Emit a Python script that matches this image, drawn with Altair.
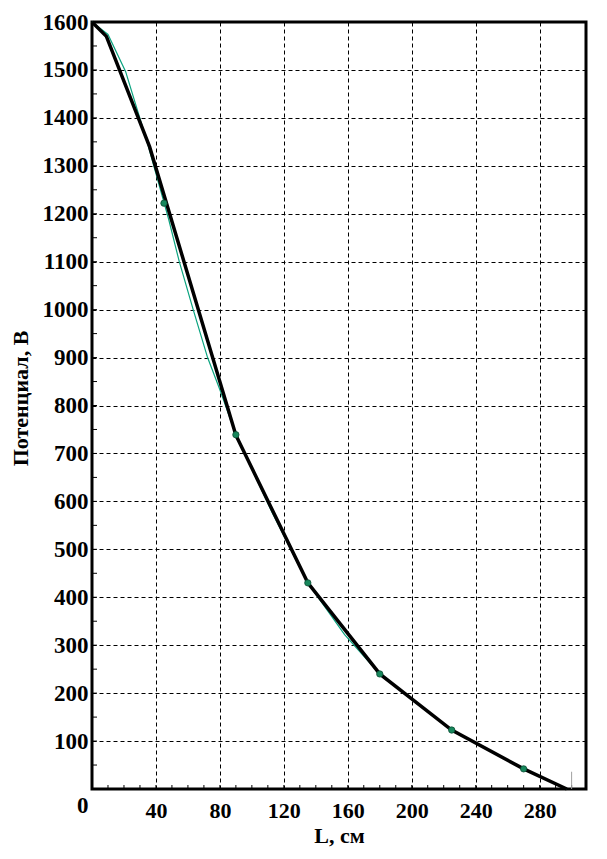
import altair as alt
import pandas as pd

# Thick black curve (L, cm ; potential, V)
black_L = [0, 9, 36, 90, 135, 180, 225, 270, 297]
black_V = [1600, 1570, 1340, 738, 430, 240, 123, 42, 0]

# Thin green curve
green_L = [0, 10, 21, 35, 48, 54.6, 63.3, 72.3, 80, 90, 112.5, 135, 158, 180, 225, 270, 297]
green_V = [1600, 1574, 1497, 1344, 1188, 1100, 1000, 900, 833, 739, 578, 430, 322, 240, 123, 42, 0]

# Measured points
dots_L = [45, 90, 135, 180, 225, 270]
dots_V = [1222, 739, 430, 240, 123, 42]

# Small grey marker at the right end
marker_L = [300]
marker_V = [36]

# Axis ticks
x_ticks = [40, 80, 120, 160, 200, 240, 280]
y_ticks = [0, 100, 200, 300, 400, 500, 600, 700, 800, 900, 1000,
           1100, 1200, 1300, 1400, 1500, 1600]
x_minor = list(range(10, 310, 10))
y_minor = list(range(50, 1600, 50))

W, H = 494, 767
FONT = "Liberation Serif"

black_df = pd.DataFrame({"L": black_L, "V": black_V})
green_df = pd.DataFrame({"L": green_L, "V": green_V})
dots_df = pd.DataFrame({"L": dots_L, "V": dots_V})
marker_df = pd.DataFrame({"L": marker_L, "V": marker_V, "V0": [0] * len(marker_L)})
xminor_df = pd.DataFrame({"L": x_minor})
yminor_df = pd.DataFrame({"V": y_minor})

xscale = alt.Scale(domain=[0, 309], nice=False, zero=False)
yscale = alt.Scale(domain=[0, 1600], nice=False)

xaxis = alt.Axis(
    values=x_ticks, format="d", grid=True, gridDash=[4, 3], gridColor="black", gridWidth=1,
    ticks=False, domain=False, labelFont=FONT, labelFontWeight="bold",
    labelFontSize=22, labelColor="black", labelPadding=11, labelFlush=False,
    labelOverlap=False, title="L, см", titleFont=FONT, titleFontWeight="bold",
    titleFontSize=22, titleColor="black", titlePadding=4,
)
yaxis = alt.Axis(
    values=y_ticks, format="d", grid=True, gridDash=[4, 3], gridColor="black", gridWidth=1,
    ticks=False, domain=False, labelFont=FONT, labelFontWeight="bold",
    labelFontSize=23, labelColor="black", labelPadding=4, labelFlush=False,
    labelOverlap=False,
    labelOffset={"condition": {"test": "datum.value === 0", "value": 16}, "value": 0},
    title="Потенциал, В", titleFont=FONT, titleFontWeight="bold",
    titleFontSize=22, titleColor="black", titlePadding=10, titleY=376,
)

X = alt.X("L:Q", scale=xscale, axis=xaxis)
Y = alt.Y("V:Q", scale=yscale, axis=yaxis)

green = alt.Chart(green_df).mark_line(color="#0aa37f", strokeWidth=1.2).encode(x=X, y=Y, order="L:Q")
black = alt.Chart(black_df).mark_line(color="black", strokeWidth=3.5).encode(x=X, y=Y, order="L:Q")
dots = alt.Chart(dots_df).mark_circle(size=40, color="#17875c", stroke="#0b4d33",
                                      strokeWidth=0.8, opacity=1).encode(x=X, y=Y)
marker = alt.Chart(marker_df).mark_rule(color="#a0a0a0", strokeWidth=1).encode(
    x=X, y=Y, y2=alt.Y2("V0:Q"))
xminor = alt.Chart(xminor_df).mark_rule(color="black", strokeWidth=1).encode(
    x=X, y=alt.value(H), y2=alt.value(H - 4))
yminor = alt.Chart(yminor_df).mark_rule(color="black", strokeWidth=1).encode(
    y=Y, x=alt.value(0), x2=alt.value(5))

chart = alt.layer(xminor, yminor, marker, green, black, dots).properties(
    width=W, height=H,
    autosize=alt.AutoSizeParams(type="none"),
    padding={"left": 84, "top": 14, "right": 13, "bottom": 62},
    background="white",
).configure_view(stroke="black", strokeWidth=3)

chart.save("out.html", embed_options={"renderer": "svg", "actions": False})
